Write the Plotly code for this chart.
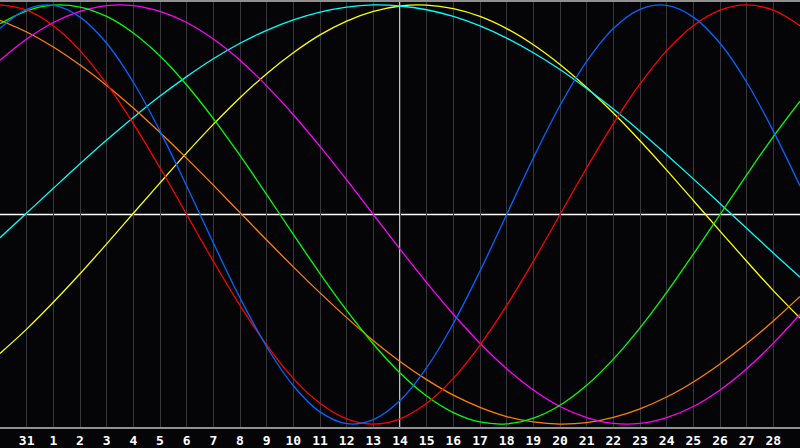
import plotly.graph_objects as go

# day index across the chart (0 = the 30th of the previous month)
days = list(range(31))
tick_days = list(range(1, 30))
tick_labels = ["31"] + [str(d) for d in range(1, 29)]
today = 15

# values, one per day (-1 .. 1)
physical = [0.888, 0.979, 0.998, 0.942, 0.817, 0.631, 0.398, 0.136, -0.136, -0.398,
            -0.631, -0.817, -0.942, -0.998, -0.979, -0.888, -0.731, -0.520, -0.270, 0.000,
            0.270, 0.520, 0.731, 0.888, 0.979, 0.998, 0.942, 0.817, 0.631, 0.398, 0.136]
emotional = [1.000, 0.975, 0.901, 0.782, 0.623, 0.434, 0.223, 0.000, -0.223, -0.434,
             -0.623, -0.782, -0.901, -0.975, -1.000, -0.975, -0.901, -0.782, -0.623, -0.434,
             -0.223, 0.000, 0.223, 0.434, 0.623, 0.782, 0.901, 0.975, 1.000, 0.975, 0.901]
intellectual = [0.910, 0.972, 0.999, 0.990, 0.945, 0.866, 0.756, 0.618, 0.458, 0.282,
                0.095, -0.095, -0.282, -0.458, -0.618, -0.756, -0.866, -0.945, -0.990, -0.999,
                -0.972, -0.910, -0.815, -0.690, -0.541, -0.372, -0.189, 0.000, 0.189, 0.372, 0.541]
intuitive = [0.736, 0.837, 0.916, 0.969, 0.997, 0.997, 0.969, 0.916, 0.837, 0.736,
             0.614, 0.476, 0.325, 0.165, 0.000, -0.165, -0.325, -0.476, -0.614, -0.736,
             -0.837, -0.916, -0.969, -0.997, -0.997, -0.969, -0.916, -0.837, -0.736, -0.614, -0.476]
awareness = [0.927, 0.871, 0.799, 0.713, 0.616, 0.508, 0.391, 0.268, 0.140, 0.009,
             -0.122, -0.250, -0.374, -0.492, -0.602, -0.701, -0.788, -0.862, -0.920, -0.964,
             -0.990, -1.000, -0.993, -0.968, -0.927, -0.871, -0.799, -0.713, -0.616, -0.508, -0.391]
spiritual = [-0.111, 0.007, 0.125, 0.242, 0.355, 0.463, 0.565, 0.658, 0.743, 0.817,
             0.879, 0.929, 0.966, 0.990, 1.000, 0.995, 0.977, 0.945, 0.900, 0.842,
             0.772, 0.692, 0.601, 0.503, 0.397, 0.285, 0.170, 0.052, -0.066, -0.184, -0.299]
aesthetic = [-0.663, -0.547, -0.419, -0.283, -0.140, 0.006, 0.151, 0.294, 0.430, 0.557,
             0.672, 0.772, 0.857, 0.923, 0.969, 0.995, 0.999, 0.982, 0.945, 0.887,
             0.810, 0.716, 0.606, 0.484, 0.352, 0.212, 0.067, -0.079, -0.223, -0.363, -0.494]

series = [
    ("Aesthetic", aesthetic, "#ffff00"),
    ("Spiritual", spiritual, "#00ffff"),
    ("Awareness", awareness, "#ff8000"),
    ("Intuitive", intuitive, "#ff00ff"),
    ("Intellectual", intellectual, "#00ff00"),
    ("Emotional", emotional, "#ff0000"),
    ("Physical", physical, "#0066ff"),
]

fig = go.Figure()
for name, vals, col in series:
    fig.add_trace(go.Scatter(x=days, y=vals, name=name, mode="lines",
                             line=dict(color=col, width=1.3, shape="spline", smoothing=1.0)))

# today marker and zero line
fig.add_shape(type="line", xref="x", yref="paper", x0=today, x1=today, y0=0, y1=1,
              line=dict(color="white", width=1.5), layer="below")
fig.add_shape(type="line", xref="paper", yref="y", x0=0, x1=1, y0=0, y1=0,
              line=dict(color="white", width=1.5), layer="below")

fig.update_layout(
    width=800, height=448,
    margin=dict(l=0, r=0, t=0, b=20),
    paper_bgcolor="#050508",
    plot_bgcolor="#050508",
    showlegend=False,
    hovermode=False,
    xaxis=dict(range=[0, 30], tickvals=tick_days, ticktext=tick_labels,
               showgrid=True, gridcolor="#38383c", gridwidth=1, zeroline=False,
               showline=True, linecolor="#909090", linewidth=2, mirror=True,
               ticks="", tickfont=dict(family="DejaVu Sans Mono", size=13, color="white", weight="bold")),
    yaxis=dict(range=[-1.014, 1.014], showgrid=False, zeroline=False, showticklabels=False,
               showline=True, linecolor="#909090", linewidth=2),
)

# drop the page's default body margin so the chart fills the window
fig.write_html("out.html", config={"staticPlot": True},
               post_script="document.body.style.margin='0';document.body.style.background='#050508';")
